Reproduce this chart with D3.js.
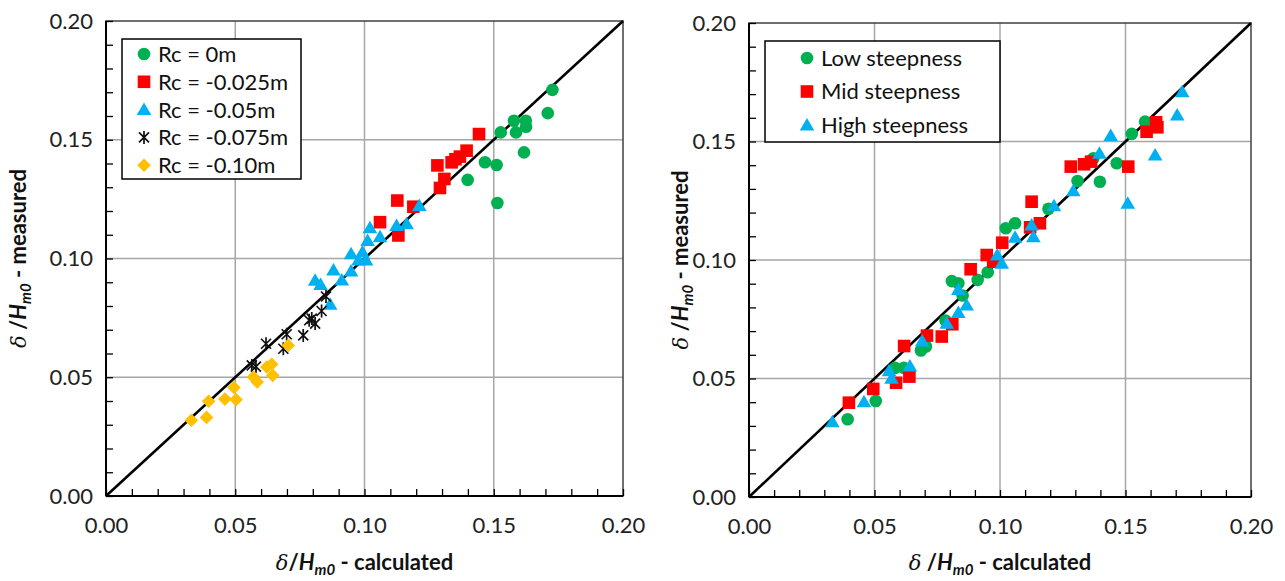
<!DOCTYPE html>
<html>
<head>
<meta charset="utf-8">
<script src="https://cdn.jsdelivr.net/npm/d3@7"></script>
<style>
  body { margin: 0; background: #fff; }
  svg { font-family: Lato, "Open Sans", sans-serif; }
  .grid line { stroke: #a6a6a6; stroke-width: 1.5; }
  .minor line { stroke: #000; stroke-width: 1.3; }
  .minor path, .labels path { display: none; }
  .labels line { display: none; }
  .labels text { font-size: 22px; fill: #222; font-family: Lato, sans-serif; }
</style>
</head>
<body>
<svg width="1285" height="581"></svg>
<script>
// left panel: by crest freeboard
var rc0 = [[0.1727,0.1710],[0.1709,0.1612],[0.1578,0.1580],[0.1624,0.1580],[0.1586,0.1531],[0.1625,0.1555],
  [0.1527,0.1531],[0.1617,0.1447],[0.1466,0.1405],[0.1511,0.1394],[0.1399,0.1331],[0.1514,0.1234]];
var rc025 = [[0.1443,0.1524],[0.1395,0.1454],[0.1369,0.1429],[0.1352,0.1418],[0.1337,0.1405],[0.1282,0.1392],
  [0.1309,0.1335],[0.1292,0.1297],[0.1127,0.1244],[0.1189,0.1218],[0.1060,0.1153],[0.1131,0.1097]];
var rc05 = [[0.1212,0.1223],[0.1163,0.1146],[0.1124,0.1139],[0.1060,0.1092],[0.1021,0.1129],[0.1012,0.1076],
  [0.0992,0.1027],[0.0948,0.1020],[0.1006,0.0994],[0.0977,0.0994],[0.0880,0.0952],[0.0948,0.0947],
  [0.0912,0.0910],[0.0809,0.0908],[0.0830,0.0891],[0.0867,0.0807]];
var rc075 = [[0.0851,0.0840],[0.0834,0.0779],[0.0796,0.0747],[0.0809,0.0726],[0.0786,0.0740],[0.0763,0.0676],
  [0.0699,0.0681],[0.0686,0.0620],[0.0619,0.0641],[0.0564,0.0550],[0.0580,0.0545]];
var rc10 = [[0.0705,0.0634],[0.0641,0.0555],[0.0622,0.0543],[0.0645,0.0508],[0.0570,0.0501],[0.0585,0.0480],
  [0.0495,0.0457],[0.0460,0.0408],[0.0503,0.0406],[0.0397,0.0399],[0.0389,0.0331],[0.0330,0.0319]];

// right panel: by wave steepness
var lowSteep = [[0.0393,0.0328],[0.0505,0.0405],[0.0582,0.0545],[0.0617,0.0545],[0.0685,0.0618],[0.0705,0.0635],
  [0.0783,0.0745],[0.0808,0.0911],[0.0834,0.0902],[0.0851,0.0850],[0.0911,0.0916],[0.0951,0.0948],
  [0.1023,0.1134],[0.1060,0.1155],[0.1193,0.1216],[0.1309,0.1333],[0.1398,0.1330],[0.1372,0.1429],
  [0.1465,0.1408],[0.1525,0.1532],[0.1578,0.1584]];
var midSteep = [[0.0398,0.0398],[0.0495,0.0456],[0.0586,0.0482],[0.0639,0.0508],[0.0618,0.0637],[0.0709,0.0681],
  [0.0768,0.0677],[0.0810,0.0729],[0.0883,0.0961],[0.0947,0.1021],[0.0973,0.0993],[0.1009,0.1073],
  [0.1126,0.1246],[0.1120,0.1138],[0.1159,0.1155],[0.1282,0.1394],[0.1335,0.1404],[0.1363,0.1415],
  [0.1511,0.1394],[0.1584,0.1541],[0.1622,0.1581],[0.1627,0.1560]];
var highSteep = [[0.0332,0.0318],[0.0458,0.0402],[0.0558,0.0533],[0.0568,0.0501],[0.0641,0.0553],[0.0690,0.0658],
  [0.0788,0.0733],[0.0834,0.0778],[0.0867,0.0810],[0.0834,0.0876],[0.0989,0.1021],[0.1007,0.0986],
  [0.1060,0.1096],[0.1133,0.1098],[0.1126,0.1148],[0.1215,0.1229],[0.1292,0.1292],[0.1396,0.1450],
  [0.1441,0.1525],[0.1509,0.1239],[0.1618,0.1443],[0.1706,0.1612],[0.1726,0.1710]];

var majorTicks = [0, 0.05, 0.10, 0.15, 0.20];
var minorTicks = d3.range(0, 21).map(function(i) { return i / 100; });
var leftLegend = ["Rc = 0m", "Rc = -0.025m", "Rc = -0.05m", "Rc = -0.075m", "Rc = -0.10m"];
var rightLegend = ["Low steepness", "Mid steepness", "High steepness"];

var green = "#00b050", red = "#ff0000", blue = "#00b0f0", yellow = "#ffc000";

var shapes = {
  circle: function(g) { g.append("circle").attr("r", 6.3); },
  square: function(g) { g.append("rect").attr("x", -6.3).attr("y", -6.3).attr("width", 12.6).attr("height", 12.6); },
  triangle: function(g) { g.append("path").attr("d", "M0,-7L7.3,5.5L-7.3,5.5Z"); },
  star: function(g) { g.append("path").attr("d", "M-5,-5L5,5M-5,5L5,-5M0,-6.5L0,6.5").attr("stroke-width", 1.7); },
  diamond: function(g) { g.append("path").attr("d", "M0,-6.8L6.8,0L0,6.8L-6.8,0Z"); }
};

var svg = d3.select("svg");

function panel(opt) {
  var x = d3.scaleLinear().domain([0, 0.2]).range(opt.xr),
      y = d3.scaleLinear().domain([0, 0.2]).range(opt.yr);
  var g = svg.append("g");

  g.append("g").attr("class", "grid")
    .selectAll("line.v").data(majorTicks.slice(1, 4)).enter().append("line")
    .attr("x1", function(d) { return x(d); }).attr("x2", function(d) { return x(d); })
    .attr("y1", y(0)).attr("y2", y(0.2));
  g.select(".grid").selectAll("line.h").data(majorTicks.slice(1, 4)).enter().append("line")
    .attr("class", "h")
    .attr("y1", function(d) { return y(d); }).attr("y2", function(d) { return y(d); })
    .attr("x1", x(0)).attr("x2", x(0.2));

  g.append("rect")
    .attr("x", x(0)).attr("y", y(0.2))
    .attr("width", x(0.2) - x(0)).attr("height", y(0) - y(0.2))
    .attr("fill", "none").attr("stroke", "#404040").attr("stroke-width", 1.5);

  g.append("g").attr("class", "minor")
    .attr("transform", "translate(0," + y(0) + ")")
    .call(d3.axisBottom(x).tickValues(minorTicks).tickSize(-7).tickFormat(""));
  g.append("g").attr("class", "minor")
    .attr("transform", "translate(" + x(0) + ",0)")
    .call(d3.axisLeft(y).tickValues(minorTicks).tickSize(-7).tickFormat(""));

  g.append("line")
    .attr("x1", x(0)).attr("y1", y(0)).attr("x2", x(0)).attr("y2", y(0.2))
    .attr("stroke", "#000").attr("stroke-width", 2);
  g.append("line")
    .attr("x1", x(0)).attr("y1", y(0)).attr("x2", x(0.2)).attr("y2", y(0))
    .attr("stroke", "#000").attr("stroke-width", 2);

  g.append("g").attr("class", "labels")
    .attr("transform", "translate(0," + y(0) + ")")
    .call(d3.axisBottom(x).tickValues(majorTicks).tickSize(0).tickPadding(21).tickFormat(d3.format(".2f")));
  g.append("g").attr("class", "labels")
    .attr("transform", "translate(" + x(0) + ",0)")
    .call(d3.axisLeft(y).tickValues(majorTicks).tickSize(0).tickPadding(13).tickFormat(d3.format(".2f")));

  // 1:1 line
  g.append("line")
    .attr("x1", x(0)).attr("y1", y(0)).attr("x2", x(0.2)).attr("y2", y(0.2))
    .attr("stroke", "#000").attr("stroke-width", 2.6);

  opt.series.forEach(function(s) {
    g.append("g").selectAll("g").data(s.data).enter().append("g")
      .attr("transform", function(d) { return "translate(" + x(d[0]) + "," + y(d[1]) + ")"; })
      .attr("fill", s.shape == "star" ? "none" : s.color)
      .attr("stroke", s.shape == "star" ? s.color : "none")
      .each(function() { shapes[s.shape](d3.select(this)); });
  });

  // legend
  var lg = opt.legend;
  g.append("rect")
    .attr("x", lg.x).attr("y", lg.y).attr("width", lg.w).attr("height", lg.h)
    .attr("fill", "#fff").attr("stroke", "#000").attr("stroke-width", 1.5);
  opt.series.forEach(function(s, i) {
    var row = g.append("g").attr("transform", "translate(" + lg.mx + "," + (lg.y0 + i * lg.dy) + ")");
    row.append("g")
      .attr("fill", s.shape == "star" ? "none" : s.color)
      .attr("stroke", s.shape == "star" ? s.color : "none")
      .each(function() { shapes[s.shape](d3.select(this)); });
    row.append("text")
      .attr("x", lg.tx).attr("dy", "0.36em")
      .style("font-size", "22px").attr("fill", "#111")
      .text(lg.labels[i]);
  });

  // axis titles
  var cx = (x(0) + x(0.2)) / 2, cy = (y(0) + y(0.2)) / 2;
  var xt = g.append("text").attr("x", cx).attr("y", 570)
    .attr("text-anchor", "middle").style("font-size", "22px").attr("fill", "#111");
  title(xt, opt.xgap, "calculated");
  var yt = g.append("text")
    .attr("transform", "translate(" + opt.ytx + "," + cy + ") rotate(-90)")
    .attr("text-anchor", "middle").style("font-size", "22px").attr("fill", "#111");
  title(yt, " ", "measured");
}

function title(t, gap, word) {
  t.append("tspan").attr("font-style", "italic").style("font-family", "'DejaVu Serif', serif").style("font-size", "21px").text("δ");
  t.append("tspan").attr("font-weight", "bold").text(gap + "/");
  t.append("tspan").attr("font-weight", "bold").attr("font-style", "italic").text("H");
  t.append("tspan").attr("font-weight", "bold").attr("font-style", "italic")
    .style("font-size", "15px").attr("dy", 5).text("m0");
  t.append("tspan").attr("font-weight", "bold").attr("dy", -5).text(" - " + word);
}

panel({
  xr: [106, 623], yr: [496, 21], ytx: 26, xgap: "",
  series: [
    { data: rc0, color: green, shape: "circle" },
    { data: rc025, color: red, shape: "square" },
    { data: rc05, color: blue, shape: "triangle" },
    { data: rc075, color: "#111", shape: "star" },
    { data: rc10, color: yellow, shape: "diamond" }
  ],
  legend: { x: 122, y: 39, w: 179, h: 140, mx: 144, y0: 54, dy: 27.8, tx: 14, labels: leftLegend }
});

panel({
  xr: [749, 1251], yr: [497, 23], ytx: 688, xgap: " ",
  series: [
    { data: lowSteep, color: green, shape: "circle" },
    { data: midSteep, color: red, shape: "square" },
    { data: highSteep, color: blue, shape: "triangle" }
  ],
  legend: { x: 765, y: 41, w: 235, h: 101, mx: 807, y0: 58, dy: 33.5, tx: 14, labels: rightLegend }
});
</script>
</body>
</html>
